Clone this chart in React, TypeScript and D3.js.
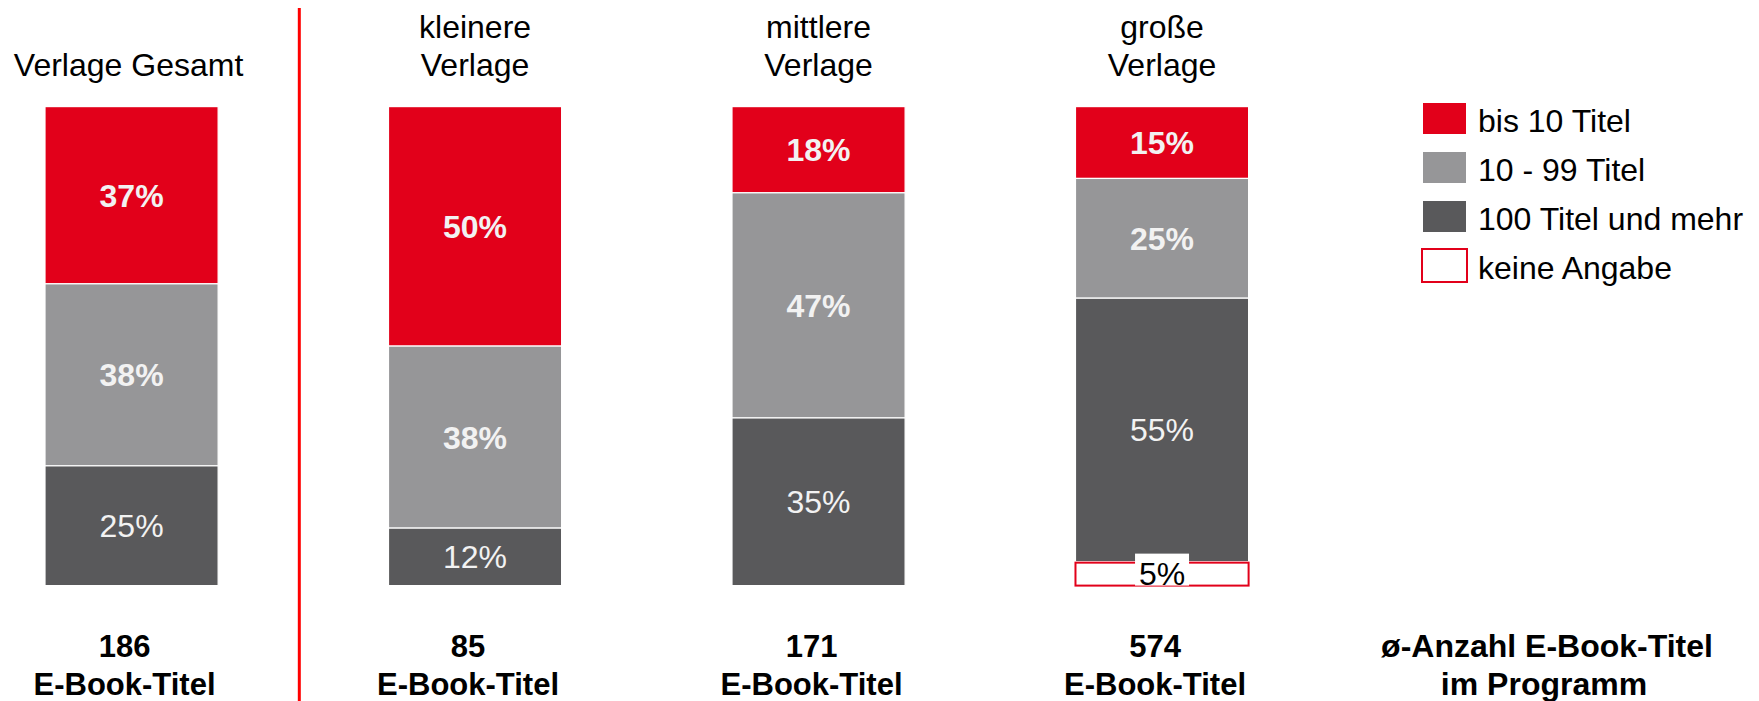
import React from "react";
import * as d3 from "d3";

// ---- data ----
const categories = ["Verlage Gesamt", "kleinere Verlage", "mittlere Verlage", "große Verlage"];
const titleLines = [["Verlage Gesamt"], ["kleinere", "Verlage"], ["mittlere", "Verlage"], ["große", "Verlage"]];
const seriesNames = ["bis 10 Titel", "10 - 99 Titel", "100 Titel und mehr", "keine Angabe"];
const bis10 = [37, 50, 18, 15];
const titel10_99 = [38, 38, 47, 25];
const titel100 = [25, 12, 35, 55];
const keineAngabe = [0, 0, 0, 5];
const avgTitles = [186, 85, 171, 574];
const footerUnit = "E-Book-Titel";
const footerRight = ["ø-Anzahl E-Book-Titel", "im Programm"];

const W = 1759;
const H = 701;
const FONT = "'Liberation Sans', Arial, Helvetica, sans-serif";
const FS = 32;

const RED = "#e2001a";
const GRAY = "#969698";
const DARK = "#59595b";
const LABEL = "#f2f2f2";

export default function App() {
  const rows = categories.map((c, i) => ({
    cat: c,
    s0: bis10[i],
    s1: titel10_99[i],
    s2: titel100[i],
    s3: keineAngabe[i],
  }));
  const keys = ["s0", "s1", "s2", "s3"];
  const stacked = d3.stack<any>().keys(keys)(rows);

  const x = d3
    .scaleBand<string>()
    .domain(categories)
    .range([45, 1248.6])
    .paddingInner(0.496)
    .paddingOuter(0);
  const bw = x.bandwidth();
  const y = d3.scaleLinear().domain([0, 100]).range([106.6, 585.6]);

  const fills = [RED, GRAY, DARK, "#ffffff"];
  const legendY = d3.scalePoint<string>().domain(seriesNames).range([103, 250]);

  const divX = (x(categories[0])! + bw + x(categories[1])!) / 2 - 4;

  return (
    <svg
      width={W}
      height={H}
      style={{ position: "absolute", left: 0, top: 0, display: "block", background: "#fff" }}
      fontFamily={FONT}
    >
      {/* divider */}
      <line x1={divX} x2={divX} y1={8} y2={H} stroke="#ff0000" strokeWidth={3} />

      {/* titles */}
      {categories.map((c, i) => {
        const cx = x(c)! + bw / 2;
        const lines = titleLines[i];
        return (
          <text key={c} textAnchor="middle" fontSize={FS} fill="#000">
            {lines.map((l, j) => (
              <tspan key={j} x={cx - (lines.length === 1 ? 3 : 0)} y={76 - (lines.length - 1 - j) * 38}>
                {l}
              </tspan>
            ))}
          </text>
        );
      })}

      {/* bars */}
      {stacked.map((layer, si) =>
        layer.map((d, ci) => {
          const v = d[1] - d[0];
          if (v <= 0) return null;
          const x0 = x(categories[ci])!;
          const y0 = y(d[0]);
          const y1 = y(d[1]);
          if (si === 3) {
            return (
              <rect
                key={`${si}-${ci}`}
                x={x0}
                y={y0 + 1}
                width={bw}
                height={y1 - y0 - 1}
                fill="#fff"
                stroke={RED}
                strokeWidth={2}
              />
            );
          }
          return (
            <rect
              key={`${si}-${ci}`}
              x={x0}
              y={y0}
              width={bw}
              height={y1 - y0}
              fill={fills[si]}
              stroke="#ffffff"
              strokeWidth={1.2}
            />
          );
        })
      )}

      {/* value labels */}
      {stacked.map((layer, si) =>
        layer.map((d, ci) => {
          const v = d[1] - d[0];
          if (v <= 0) return null;
          const cx = x(categories[ci])! + bw / 2;
          const mid = (y(d[0]) + y(d[1])) / 2;
          const label = `${v}%`;
          if (si === 3) {
            return (
              <g key={`l${si}-${ci}`}>
                <rect x={cx - 27} y={mid - 20} width={54} height={y(d[1]) - mid + 20} fill="#fff" />
                <text x={cx} y={mid + 11.5} textAnchor="middle" fontSize={FS} fill="#000">
                  {label}
                </text>
              </g>
            );
          }
          return (
            <text
              key={`l${si}-${ci}`}
              x={cx}
              y={mid + 11.5}
              textAnchor="middle"
              fontSize={FS}
              fontWeight={si < 2 ? "bold" : "normal"}
              fill={LABEL}
            >
              {label}
            </text>
          );
        })
      )}

      {/* bottom labels */}
      {categories.map((c, i) => {
        const cx = x(c)! + bw / 2 - 7;
        return (
          <text key={`b${c}`} textAnchor="middle" fontSize={31} fontWeight="bold" fill="#000">
            <tspan x={cx} y={657}>{avgTitles[i]}</tspan>
            <tspan x={cx} y={695}>{footerUnit}</tspan>
          </text>
        );
      })}

      <text textAnchor="middle" fontSize={FS} fontWeight="bold" fill="#000">
        <tspan x={1547} y={657}>{footerRight[0]}</tspan>
        <tspan x={1544} y={695}>{footerRight[1]}</tspan>
      </text>

      {/* legend */}
      {seriesNames.map((s, i) => {
        const ly = legendY(s)!;
        return (
          <g key={s}>
            {i < 3 ? (
              <rect x={1423} y={ly} width={43} height={31} fill={fills[i]} />
            ) : (
              <rect x={1422} y={ly - 1} width={45} height={33} fill="#fff" stroke={RED} strokeWidth={2} />
            )}
            <text x={1478} y={ly + 28.5} fontSize={FS} fill="#000">
              {s}
            </text>
          </g>
        );
      })}
    </svg>
  );
}
